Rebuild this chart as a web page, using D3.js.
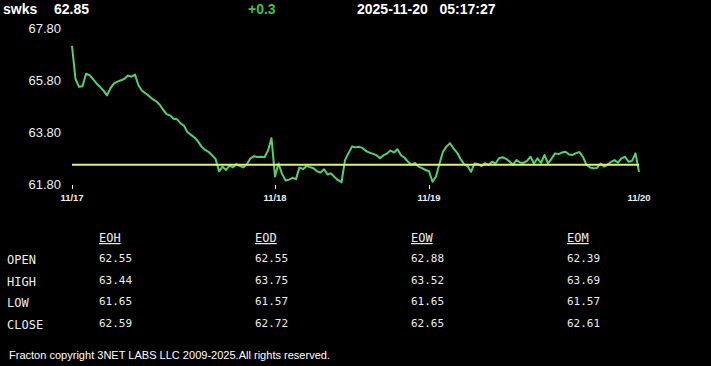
<!DOCTYPE html>
<html>
<head>
<meta charset="utf-8">
<script src="https://cdn.jsdelivr.net/npm/d3@7"></script>
<style>
  html, body { margin: 0; padding: 0; background: #000; }
  svg { display: block; }
</style>
</head>
<body>
<script>
// header values
const symbol = "swks";
const lastPrice = "62.85";
const change = "+0.3";
const stamp = "2025-11-20   05:17:27";

// intraday prices, evenly spaced samples
const prices = [
  67.12, 65.85, 65.55, 65.57, 66.05, 66.00, 65.85, 65.68, 65.55, 65.40,
  65.22, 65.50, 65.68, 65.75, 65.80, 65.86, 65.98, 65.94, 66.02, 65.60,
  65.40, 65.30, 65.20, 65.08, 65.00, 64.87, 64.68, 64.50, 64.45, 64.32,
  64.30, 64.15, 64.05, 63.80, 63.70, 63.60, 63.45, 63.25, 63.12, 63.05,
  62.92, 62.78, 62.30, 62.48, 62.35, 62.52, 62.45, 62.58, 62.50, 62.45,
  62.58, 62.80, 62.88, 62.85, 62.86, 62.84, 63.10, 63.57, 62.10, 62.60,
  62.20, 61.95, 61.98, 62.05, 62.00, 62.45, 62.38, 62.50, 62.46, 62.42,
  62.30, 62.25, 62.38, 62.18, 62.22, 62.08, 61.96, 61.88, 62.73, 63.00,
  63.25, 63.22, 63.24, 63.20, 63.08, 63.02, 62.97, 62.92, 62.80, 62.92,
  62.98, 63.10, 63.02, 63.15, 62.92, 62.82, 62.67, 62.55, 62.62, 62.48,
  62.42, 62.35, 62.30, 61.90, 62.10, 62.60, 63.05, 63.25, 63.38, 63.18,
  63.02, 62.78, 62.58, 62.50, 62.28, 62.60, 62.58, 62.50, 62.61, 62.54,
  62.67, 62.60, 62.80, 62.84, 62.78, 62.68, 62.55, 62.73, 62.64, 62.62,
  62.70, 62.86, 62.60, 62.80, 62.62, 62.93, 62.60, 62.78, 62.99, 62.96,
  63.02, 63.05, 62.95, 62.93, 63.00, 63.04, 62.85, 62.55, 62.45, 62.42,
  62.43, 62.60, 62.48, 62.56, 62.66, 62.73, 62.63, 62.80, 62.86, 62.67,
  62.70, 62.99, 62.28
];
const openPrice = 62.55;

const yTicks = [61.80, 63.80, 65.80, 67.80];
const dayTickIdx = [0, 58, 102, 162];
const dayLabels = ["11/17", "11/18", "11/19", "11/20"];
const dayMarks = [true, true, true, false];

// summary table
const colHeads = ["EOH", "EOD", "EOW", "EOM"];
const rowHeads = ["OPEN", "HIGH", "LOW", "CLOSE"];
const eohVals = ["62.55", "63.44", "61.65", "62.59"];
const eodVals = ["62.55", "63.75", "61.57", "62.72"];
const eowVals = ["62.88", "63.52", "61.65", "62.65"];
const eomVals = ["62.39", "63.69", "61.57", "62.61"];
const footer = "Fracton copyright 3NET LABS LLC 2009-2025.All rights reserved.";

const width = 711, height = 366;

const svg = d3.select("body").append("svg")
    .attr("width", width)
    .attr("height", height)
    .style("background", "#000");

const x = d3.scaleLinear().domain([0, prices.length - 1]).range([72, 639]);
const y = d3.scaleLinear().domain([61.80, 67.80]).range([184.3, 28.3]);

// header
const head = svg.append("g")
    .attr("font-family", "'Liberation Sans', Arial, sans-serif")
    .attr("font-weight", "bold")
    .attr("font-size", 14);
head.append("text").attr("x", 3).attr("y", 14).attr("fill", "#fff").text(symbol);
head.append("text").attr("x", 54).attr("y", 14).attr("fill", "#fff").text(lastPrice);
head.append("text").attr("x", 248).attr("y", 14).attr("fill", "#3cc43c").text(change);
head.append("text").attr("x", 357).attr("y", 14).attr("fill", "#fff")
    .attr("xml:space", "preserve").style("white-space", "pre").text(stamp);

// y labels
svg.append("g")
    .selectAll("text")
    .data(yTicks)
    .enter().append("text")
    .attr("x", 61)
    .attr("y", d => y(d) + 4.5)
    .attr("text-anchor", "end")
    .attr("font-family", "'Liberation Sans', Arial, sans-serif")
    .attr("font-size", 13)
    .attr("fill", "#eee")
    .text(d => d3.format(".2f")(d));

// day ticks
const days = svg.append("g");
days.selectAll("line")
    .data(dayTickIdx.filter((d, i) => dayMarks[i]))
    .enter().append("line")
    .attr("x1", d => Math.round(x(d)) + 0.5)
    .attr("x2", d => Math.round(x(d)) + 0.5)
    .attr("y1", 185)
    .attr("y2", 189)
    .attr("stroke", "#fff")
    .attr("stroke-width", 1);
days.selectAll("text")
    .data(dayTickIdx)
    .enter().append("text")
    .attr("x", d => x(d))
    .attr("y", 201)
    .attr("text-anchor", "middle")
    .attr("font-family", "'Liberation Sans', Arial, sans-serif")
    .attr("font-weight", "bold")
    .attr("font-size", 9.5)
    .attr("fill", "#eee")
    .text((d, i) => dayLabels[i]);

// price line
const line = d3.line()
    .x((d, i) => x(i))
    .y(d => y(d));
svg.append("path")
    .datum(prices)
    .attr("d", line)
    .attr("fill", "none")
    .attr("stroke", "#52d46c")
    .attr("stroke-width", 2)
    .attr("stroke-linejoin", "round");

// open reference line
svg.append("line")
    .attr("x1", x(0))
    .attr("x2", x(prices.length - 1))
    .attr("y1", y(openPrice))
    .attr("y2", y(openPrice))
    .attr("stroke", "#def07a")
    .attr("stroke-width", 2);

// table
const cols = [eohVals, eodVals, eowVals, eomVals];
const colX = d3.scaleLinear().domain([0, 1]).range([99, 255]);
const rowY = d3.scaleLinear().domain([0, 1]).range([263, 284.5]);
const table = svg.append("g")
    .attr("font-family", "'DejaVu Sans Mono', 'Liberation Mono', monospace")
    .attr("fill", "#eee");

table.selectAll("text.head")
    .data(colHeads)
    .enter().append("text")
    .attr("class", "head")
    .attr("x", (d, i) => colX(i))
    .attr("y", 242)
    .attr("font-size", 12)
    .attr("text-decoration", "underline")
    .text(d => d);

table.selectAll("text.row")
    .data(rowHeads)
    .enter().append("text")
    .attr("class", "row")
    .attr("x", 7)
    .attr("y", (d, i) => rowY(i) + 1)
    .attr("font-size", 12)
    .text(d => d);

cols.forEach((vals, c) => {
    table.selectAll("text.c" + c)
        .data(vals)
        .enter().append("text")
        .attr("class", "c" + c)
        .attr("x", colX(c))
        .attr("y", (d, i) => rowY(i) - 1)
        .attr("font-size", 11)
        .text(d => d);
});

svg.append("text")
    .attr("x", 9)
    .attr("y", 359)
    .attr("font-family", "'Liberation Sans', Arial, sans-serif")
    .attr("font-size", 11)
    .attr("fill", "#fff")
    .attr("textLength", 321)
    .attr("lengthAdjust", "spacingAndGlyphs")
    .text(footer);
</script>
</body>
</html>
